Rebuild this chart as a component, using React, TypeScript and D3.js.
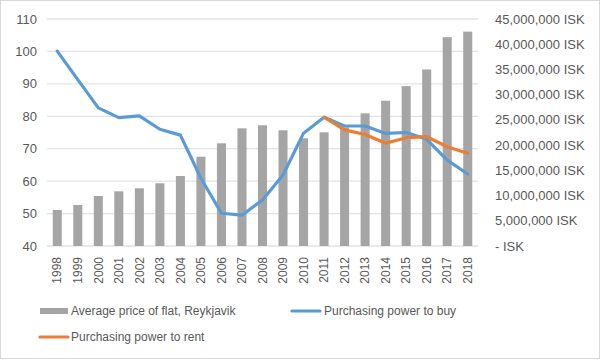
import React from 'react'
import * as d3 from 'd3'

// years on the x axis
const years = [
  '1998', '1999', '2000', '2001', '2002', '2003', '2004', '2005', '2006', '2007', '2008',
  '2009', '2010', '2011', '2012', '2013', '2014', '2015', '2016', '2017', '2018'
]

// Average price of flat, Reykjavik (ISK, right axis)
const avgPrice = [
  7140000, 8130000, 9910000, 10840000, 11440000, 12430000, 13880000, 17700000, 20360000,
  23330000, 23930000, 22940000, 21350000, 22540000, 23500000, 26300000, 28800000,
  31700000, 35000000, 41400000, 42500000
]

// Purchasing power to buy (left axis)
const powerBuy = [
  100.1, 91.3, 82.6, 79.6, 80.1, 76.0, 74.2, 60.9, 50.1, 49.5, 54.2,
  61.9, 74.8, 79.7, 77.0, 77.0, 74.7, 75.0, 72.9, 66.5, 62.2
]

// Purchasing power to rent (left axis), from 2011
const rentYears = ['2011', '2012', '2013', '2014', '2015', '2016', '2017', '2018']
const powerRent = [79.7, 75.8, 74.4, 71.7, 73.4, 73.7, 70.6, 68.6]

const leftTicks = [40, 50, 60, 70, 80, 90, 100, 110]
const rightTicks = [0, 5000000, 10000000, 15000000, 20000000, 25000000, 30000000, 35000000, 40000000, 45000000]

const width = 600
const height = 361
const font = '"Liberation Sans", Arial, Helvetica, sans-serif'
const textColor = '#595959'
const gray = '#A5A5A5'
const blue = '#5B9BD5'
const orange = '#ED7D31'

const fmtIsk = (v: number) => (v === 0 ? '- ISK' : d3.format(',')(v) + ' ISK')

export default function App() {
  const plot = { left: 47, right: 478, top: 19, bottom: 246 }

  const x = d3.scaleBand<string>()
    .domain(years)
    .range([plot.left, plot.right])
    .paddingInner(0.56)
    .paddingOuter(0.28)

  const yLeft = d3.scaleLinear().domain([40, 110]).range([plot.bottom, plot.top])
  const yRight = d3.scaleLinear().domain([0, 45000000]).range([plot.bottom, plot.top])

  const cx = (d: string) => (x(d) as number) + x.bandwidth() / 2

  const line = d3.line<[string, number]>()
    .x((d) => cx(d[0]))
    .y((d) => yLeft(d[1]))

  const buyPath = line(years.map((y, i) => [y, powerBuy[i]] as [string, number]))
  const rentPath = line(rentYears.map((y, i) => [y, powerRent[i]] as [string, number]))

  return (
    <svg
      width={width}
      height={height}
      style={{ position: 'absolute', left: 0, top: 0, fontFamily: font }}
    >
      <rect x={0.5} y={0.5} width={width - 1} height={height - 3} fill="#fff" stroke="#d9d9d9" />

      {/* gridlines */}
      <g>
        {leftTicks.map((t) => (
          <line key={t} x1={plot.left} x2={plot.right} y1={yLeft(t)} y2={yLeft(t)} stroke="#e3e3e3" strokeWidth={1.3} />
        ))}
      </g>

      {/* left axis labels */}
      <g>
        {leftTicks.map((t) => (
          <text key={t} x={37} y={yLeft(t)} dy="0.35em" textAnchor="end" fontSize={13} fill={textColor}>
            {t}
          </text>
        ))}
      </g>

      {/* right axis labels */}
      <g>
        {rightTicks.map((t) => (
          <text key={t} x={495} y={yRight(t)} dy="0.35em" textAnchor="start" fontSize={13} fill={textColor}>
            {fmtIsk(t)}
          </text>
        ))}
      </g>

      {/* bars */}
      <g>
        {years.map((y, i) => (
          <rect
            key={y}
            x={x(y)}
            y={yRight(avgPrice[i])}
            width={x.bandwidth()}
            height={yRight(0) - yRight(avgPrice[i])}
            fill={gray}
          />
        ))}
      </g>

      {/* lines */}
      <path d={buyPath || ''} fill="none" stroke={blue} strokeWidth={3.2} strokeLinejoin="round" strokeLinecap="round" />
      <path d={rentPath || ''} fill="none" stroke={orange} strokeWidth={3.2} strokeLinejoin="round" strokeLinecap="round" />

      {/* x axis labels */}
      <g>
        {years.map((y) => (
          <text
            key={y}
            transform={`translate(${cx(y)},${257}) rotate(-90)`}
            dy="0.35em"
            textAnchor="end"
            fontSize={12}
            fill={textColor}
          >
            {y}
          </text>
        ))}
      </g>

      {/* legend */}
      <g fontSize={12} fill={textColor}>
        <rect x={40} y={308} width={28} height={6} fill={gray} />
        <text x={71} y={311} dy="0.35em">Average price of flat, Reykjavik</text>
        <line x1={292} x2={320} y1={311} y2={311} stroke={blue} strokeWidth={3.2} strokeLinecap="round" />
        <text x={324} y={311} dy="0.35em">Purchasing power to buy</text>
        <line x1={40} x2={68} y1={337} y2={337} stroke={orange} strokeWidth={3.2} strokeLinecap="round" />
        <text x={71} y={337} dy="0.35em">Purchasing power to rent</text>
      </g>
    </svg>
  )
}
